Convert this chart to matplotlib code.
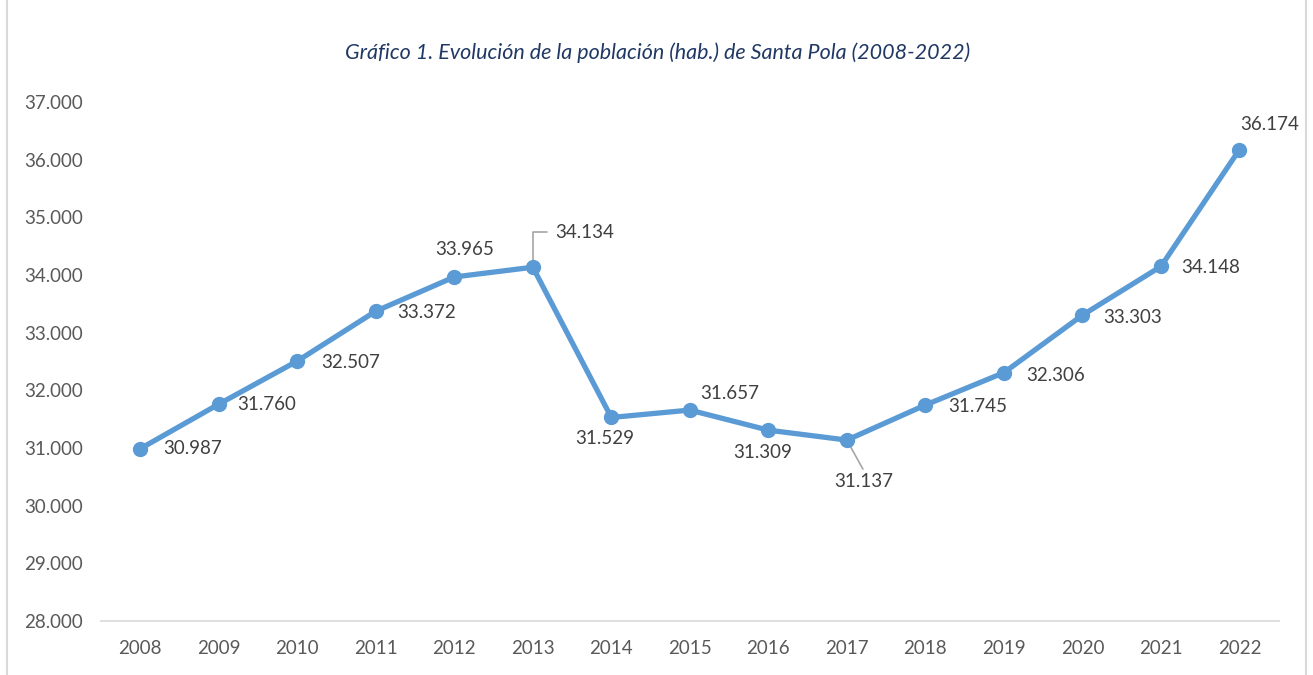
import matplotlib.pyplot as plt
from matplotlib.patches import Rectangle

years = ['2008', '2009', '2010', '2011', '2012', '2013', '2014', '2015',
         '2016', '2017', '2018', '2019', '2020', '2021', '2022']
population = [30987, 31760, 32507, 33372, 33965, 34134, 31529, 31657,
              31309, 31137, 31745, 32306, 33303, 34148, 36174]
# label offsets in pixels (dx, dy) relative to each point
label_offsets = [(52, 0), (48, 0), (53, -1), (51, -1), (10, 27), (52, 35),
                 (-7, -21), (40, 17), (-6, -22), (17, -41), (52, -1),
                 (52, -3), (50, -2), (50, -1), (30, 25)]

plt.rcParams['font.family'] = ['Lato', 'DejaVu Sans']

fig = plt.figure(figsize=(13.13, 6.75), dpi=100)
ax = fig.add_axes([0.0769, 0.08, 0.897, 0.769])

x = list(range(len(years)))
ax.plot(x, population, color='#5B9BD5', linewidth=3.8, marker='o',
        markersize=10, solid_capstyle='round', zorder=3)

ax.set_xlim(-0.5, len(years) - 0.5)
ax.set_ylim(28000, 37000)
ax.set_yticks(range(28000, 37001, 1000))
ax.set_yticklabels([f'{v:,}'.replace(',', '.') for v in range(28000, 37001, 1000)])
ax.set_xticks(x)
ax.set_xticklabels(years)
ax.tick_params(axis='both', length=0, labelsize=13.5, colors='#595959')
ax.tick_params(axis='y', pad=55)
ax.tick_params(axis='x', pad=14)
for s in ['top', 'right', 'left']:
    ax.spines[s].set_visible(False)
ax.spines['bottom'].set_color('#D9D9D9')
ax.spines['bottom'].set_linewidth(1.2)
for lbl in ax.get_yticklabels():
    lbl.set_horizontalalignment('left')

for i, (v, (dx, dy)) in enumerate(zip(population, label_offsets)):
    ax.annotate(f'{v:,}'.replace(',', '.'), (i, v), xytext=(dx, dy),
                textcoords='offset pixels', ha='center', va='center',
                fontsize=13.5, color='#404040', zorder=4)

# leader lines
leader_color = '#A6A6A6'
ax.annotate('', (5, population[5]), xytext=(14, 35), textcoords='offset pixels',
            arrowprops=dict(arrowstyle='-', color=leader_color, lw=1.2,
                            connectionstyle='angle,angleA=0,angleB=90,rad=0',
                            shrinkA=0, shrinkB=0), zorder=2)
ax.annotate('', (9, population[9]), xytext=(16, -29), textcoords='offset pixels',
            arrowprops=dict(arrowstyle='-', color=leader_color, lw=1.2,
                            shrinkA=0, shrinkB=0), zorder=2)

fig.text(0.501, 0.922, 'Gráfico 1. Evolución de la población (hab.) de Santa Pola (2008-2022)',
         ha='center', va='center', fontsize=15.5, style='italic', color='#203864')

fig.patches.append(Rectangle((0.0053, -0.01), 0.989, 1.05, transform=fig.transFigure,
                             fill=False, edgecolor='#D9D9D9', linewidth=1.5))

fig.savefig('out.png', dpi=100)
